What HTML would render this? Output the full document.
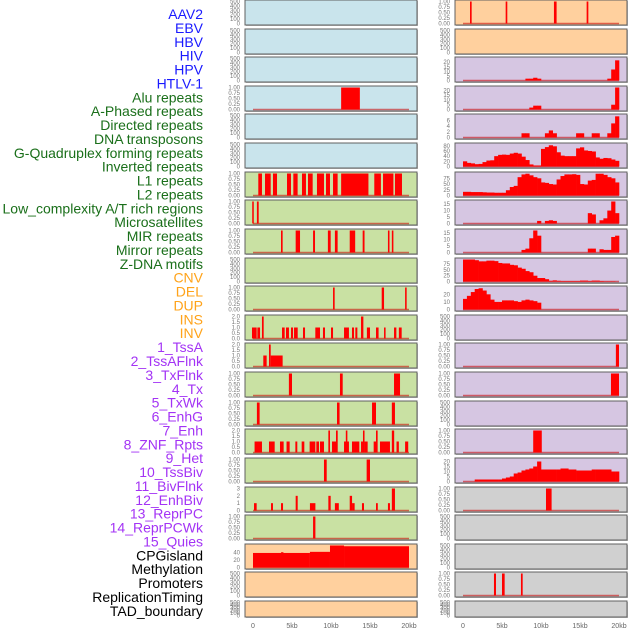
<!DOCTYPE html>
<html><head><meta charset="utf-8"><style>
body{margin:0;background:#fff;width:630px;height:630px;overflow:hidden}
svg{display:block;font-family:"Liberation Sans",sans-serif}
</style></head><body>
<svg id="chart" width="630" height="630" viewBox="0 0 630 630"></svg>
<script>
const labelNames=["AAV2","EBV","HBV","HIV","HPV","HTLV-1","Alu repeats","A-Phased repeats","Directed repeats","DNA transposons","G-Quadruplex forming repeats","Inverted repeats","L1 repeats","L2 repeats","Low_complexity A/T rich regions","Microsatellites","MIR repeats","Mirror repeats","Z-DNA motifs","CNV","DEL","DUP","INS","INV","1_TssA","2_TssAFlnk","3_TxFlnk","4_Tx","5_TxWk","6_EnhG","7_Enh","8_ZNF_Rpts","9_Het","10_TssBiv","11_BivFlnk","12_EnhBiv","13_ReprPC","14_ReprPCWk","15_Quies","CPGisland","Methylation","Promoters","ReplicationTiming","TAD_boundary"];
const labelGroups=[6,13,5,15,5];
const groupColors=["#1a1aff","#1a6f1a","#ffa31a","#a333f5","#000000"];
const leftFills=["#c9e4ec","#c9e4ec","#c9e4ec","#c9e4ec","#c9e4ec","#c9e4ec","#c9e1a3","#c9e1a3","#c9e1a3","#c9e1a3","#c9e1a3","#c9e1a3","#c9e1a3","#c9e1a3","#c9e1a3","#c9e1a3","#c9e1a3","#c9e1a3","#c9e1a3","#ffd09e","#ffd09e","#ffd09e"];
const rightFills=["#ffd09e","#ffd09e","#d6c6e2","#d6c6e2","#d6c6e2","#d6c6e2","#d6c6e2","#d6c6e2","#d6c6e2","#d6c6e2","#d6c6e2","#d6c6e2","#d6c6e2","#d6c6e2","#d6c6e2","#d6c6e2","#d6c6e2","#d0d0d0","#d0d0d0","#d0d0d0","#d0d0d0","#d0d0d0"];
const xTicks=[0,5,10,15,20];
const xTickLabels=["0","5kb","10kb","15kb","20kb"];
// y-axis maxima per panel
const leftYmax=[500,500,500,1,500,500,1,1,1,500,1,2,2,1,1,2,1,3,1,59,500,500];
const rightYmax=[1,500,24,23,7.8,85,96,17,17,95,29,500,1,1,500,1,22,1,500,500,1,500];
// tick sets
const leftTicks=["T500","T500","T500","T1","T500","T500","T1","T1","T1","T500","T1","T2","T2","T1","T1","T2","T1","T3","T1","T40","T500","T500"];
const rightTicks=["T1","T500","T20","T20","T6","T80","T75","T15","T15","T75","T10","T500","T1","T1","T500","T1","T20","T1","T500","T500","T1","T500"];
const tickSets={T500:[0,100,200,300,400,500],T1:[0,0.25,0.5,0.75,1],T2:[0,0.5,1,1.5,2],T3:[0,1,2,3],T40:[0,20,40],T20:[0,5,10,15,20],T6:[0,2,4,6],T80:[0,20,40,60,80],T75:[0,25,50,75],T15:[0,5,10,15],T10:[0,10,20]};
const tickFmt={T500:0,T1:2,T2:1,T3:0,T40:0,T20:0,T6:0,T80:0,T75:0,T15:0,T10:0};
// segment data [startKb,endKb,value]
const leftSegs=[
 [],[],[],
 [[11.3,13.7,1]],
 [],[],
 [[0.68,1.15,1],[1.54,2.27,1],[2.56,3.08,1],[4.36,4.87,1],[5.17,5.72,1],[6.28,6.79,1],[7.05,7.65,1],[8.2,9.1,1],[9.36,9.87,1],[10.26,10.85,1],[11.3,14.8,1],[15.55,16.4,1],[16.67,18.0,1],[18.2,19.1,1]],
 [[-0.1,0.1,1],[0.5,0.73,1]],
 [[3.59,3.8,1],[5.47,6.03,1],[7.7,7.95,1],[9.6,9.96,1],[10.5,10.85,1],[12.4,13.1,1],[14.06,14.3,1],[17.3,17.5,1],[17.8,18.0,1]],
 [],
 [[10.26,10.47,1],[16.5,16.8,1],[19.5,19.7,1]],
 [[-0.13,0.47,1],[0.56,0.9,1],[1.15,1.37,2],[3.72,4.06,1],[4.23,4.61,1],[4.87,5.13,1],[5.26,5.73,1],[6.41,6.67,1],[7.99,8.59,1],[8.97,9.23,1],[10.0,10.26,1],[11.67,12.3,1],[12.69,12.95,1],[13.12,13.38,1],[13.85,14.15,2],[14.6,15.0,1],[15.77,16.1,1],[16.8,17.0,1],[18.08,18.38,1],[18.7,19.06,1]],
 [[1.32,1.75,1],[2.05,2.27,2],[2.27,3.8,1]],
 [[4.6,5.0,1],[11.15,11.5,1],[18.08,18.85,1]],
 [[0.5,0.85,1],[10.77,11.1,1],[15.26,15.77,1],[17.8,18.2,1]],
 [[0.2,1.15,1],[2.05,2.78,1],[3.46,3.93,1],[4.3,4.7,1],[5.43,5.68,1],[6.24,6.58,1],[7.26,7.99,1],[8.12,8.46,1],[8.59,9.1,1],[9.66,9.87,2],[10.13,10.64,1],[10.64,10.86,2],[11.67,12.3,1],[11.9,12.1,2],[12.69,12.95,1],[12.95,13.63,1],[13.85,14.1,1],[14.1,14.3,2],[14.3,14.7,1],[15.47,15.77,1],[15.77,15.98,2],[16.28,17.56,1],[17.8,18.1,2],[18.4,18.7,1],[19.5,19.9,1]],
 [[9.1,9.45,1],[14.57,15.0,1]],
 [[0.13,0.47,1],[2.31,2.56,1],[3.59,3.85,1],[5.47,5.73,2],[7.3,8.0,1],[9.66,9.96,2],[10.5,11.0,1],[12.4,12.7,2],[12.7,13.03,1],[13.97,14.23,1],[15.77,16.0,1],[17.3,17.56,1],[17.8,18.2,3]],
 [[7.7,8.0,1]],
 [[0,7.3,39],[3.6,3.9,41],[7.3,9.87,42],[9.87,11.67,59],[11.67,20,57]],
 [],[]
];
const rightSegs=[
 [[0.9,1.11,1],[5.47,5.68,1],[11.66,12.0,1],[15.85,16.07,1]],
 [],[],[],[],[],[],[],[],[],[],[],
 [[19.6,20.0,1]],
 [[18.97,20.0,1]],
 [],
 [[9.0,10.1,1]],
 [],
 [[10.64,11.36,1]],
 [],[],
 [[3.97,4.23,1],[5.0,5.34,1],[7.43,7.65,1]],
 []
];
// binned profiles (0.5kb bins, 0-20kb) for right panels
const binsHIV=[0,0,0,0,0,0,0,0,0,0,0,0,0,0,0,0,2,2,3,2,0,0,0,0,0,0,0,0,0,0,0,0,0,0,0,0,0,2,12,22];
const binsHPV=[0,0,0,0,0,0,0,0,0,0,0,0,0,0,0,0,0,2,4,4,0,0,0,0,0,0,0,0,0,0,0,0,0,0,0,0,0,0,5,23];
const binsHTLV=[0,0,0,0,0,0,0,0,0,0,0,0,0,0,0,1.5,1.5,0,0,0,0,1.5,2.5,1.5,0,0,0,0,0,1.5,1.5,0,0,1.5,1.5,0,0,1.5,5,7.5];
const binsAlu=[20,14,12,9,10,17,23,24,40,45,46,45,50,53,50,38,25,8,4,4,68,75,82,78,55,42,40,40,40,70,74,62,60,58,35,30,33,32,27,22];
const binsAPhased=[16,16,15,15,15,14,13,13,12,12,12,23,37,42,80,92,95,88,80,75,57,55,50,48,70,85,92,92,93,90,50,48,65,68,95,95,90,80,75,57];
const binsDirected=[0,0,0,0,0,0,0,0,0,0,0,0,0,0,0,0,0,0,0,2,0,2,2.5,2,0,0,0,0,0,0,0,0,8,7,0,2.5,4,10,17,8];
const binsDNA=[0,0,0,0,0,0,0,0,0,0,0,0,0,0,0,2,3,11,17,13,0,0,0,0,0,0,0,0,0,0,0,0,3,3,0,2.5,2,2,12,13];
const binsGQuad=[95,95,95,92,87,87,90,90,88,80,78,78,72,70,60,55,45,40,25,15,15,10,3,5,3,2,2,2,2,2,4,4,2,4,4,2,1,1,1,0];
const binsInverted=[14,18,23,27,28,25,20,13,10,10,12,12,12,11,10,12,13,12,11,9,0,0,0,0,0,0,0,0,0,0,0,0,0,0,0,0,0,0,0,0];
const binsHet=[0,0,0,2,2,2,2,2,2,2,3,4,5,8,9,11,12,13,15,20,12,12,12,12,12,13,13,12,12,11,11,11,11,12,12,12,12,12,10,10];
const rightBins=[null,null,binsHIV,binsHPV,binsHTLV,binsAlu,binsAPhased,binsDirected,binsDNA,binsGQuad,binsInverted,null,null,null,null,null,binsHet,null,null,null,null,null];

const svg=document.getElementById('chart');
const NS='http://www.w3.org/2000/svg';
function mk(tag,attrs,parent){const e=document.createElementNS(NS,tag);for(const k in attrs)e.setAttribute(k,attrs[k]);(parent||svg).appendChild(e);return e;}

// labels
let li=0;
labelGroups.forEach((n,g)=>{for(let i=0;i<n;i++){
  const t=mk('text',{x:203,y:14+li*13.88+5,'text-anchor':'end','font-size':'14',fill:groupColors[g]});
  t.textContent=labelNames[li];
  
  
  li++;}});

const cols=[{x0:245,x1:417,z:253,fills:leftFills,ymax:leftYmax,ticks:leftTicks,segs:leftSegs,bins:null,tag:'left'},
            {x0:455,x1:627,z:463,fills:rightFills,ymax:rightYmax,ticks:rightTicks,segs:rightSegs,bins:rightBins,tag:'right'}];
const pxPerKb=7.8;
function rowTop(r){return Math.round(r*28.62);}
cols.forEach(c=>{
  const xs=k=>c.z+k*pxPerKb;
  for(let r=0;r<22;r++){
    const top=rowTop(r);const h=(r===21)?16:25;const bot=top+h;
    const g=mk('g',{});
    
    
    mk('rect',{x:c.x0+1,y:top+1,width:c.x1-c.x0,height:h,fill:'#bbb'},g);
    mk('rect',{x:c.x0,y:top,width:c.x1-c.x0,height:h,fill:c.fills[r],stroke:'#606060','stroke-width':1},g);
    const ymax=c.ymax[r];
    const ys=v=>bot-1.5-(v/ymax)*(h-3);
    const ts=tickSets[c.ticks[r]];const fd=tickFmt[c.ticks[r]];
    ts.forEach(v=>{const t=mk('text',{x:c.x0-5,y:ys(v)+2,'text-anchor':'end','font-size':'6',fill:'#777'},g);t.textContent=v.toFixed(fd);});
    const segs=c.segs[r];const bins=c.bins?c.bins[r]:null;
    if(segs.length||bins){
      mk('line',{x1:xs(0),x2:xs(20),y1:ys(0),y2:ys(0),stroke:'rgba(200,0,0,0.55)','stroke-width':1.5},g);
    }
    segs.forEach((s,i)=>{
      const x=xs(s[0]);const w=Math.max(1.2,xs(s[1])-x);
      const b=mk('rect',{x:x,y:ys(s[2]),width:w,height:ys(0)-ys(s[2]),fill:'#ff0000'},g);
      
      
    });
    if(bins){bins.forEach((v,i)=>{if(v<=0)return;
      const x=xs(i*0.5);const w=xs((i+1)*0.5)-x+0.3;
      const b=mk('rect',{x:x,y:ys(v),width:w,height:ys(0)-ys(v),fill:'#ff0000'},g);
      
      
    });}
  }
  xTicks.forEach((k,i)=>{
    const t=mk('text',{x:xs(k),y:628,'text-anchor':'middle','font-size':'7',fill:'#666'});
    t.textContent=xTickLabels[i];
    
    
  });
});
</script>
</body></html>
